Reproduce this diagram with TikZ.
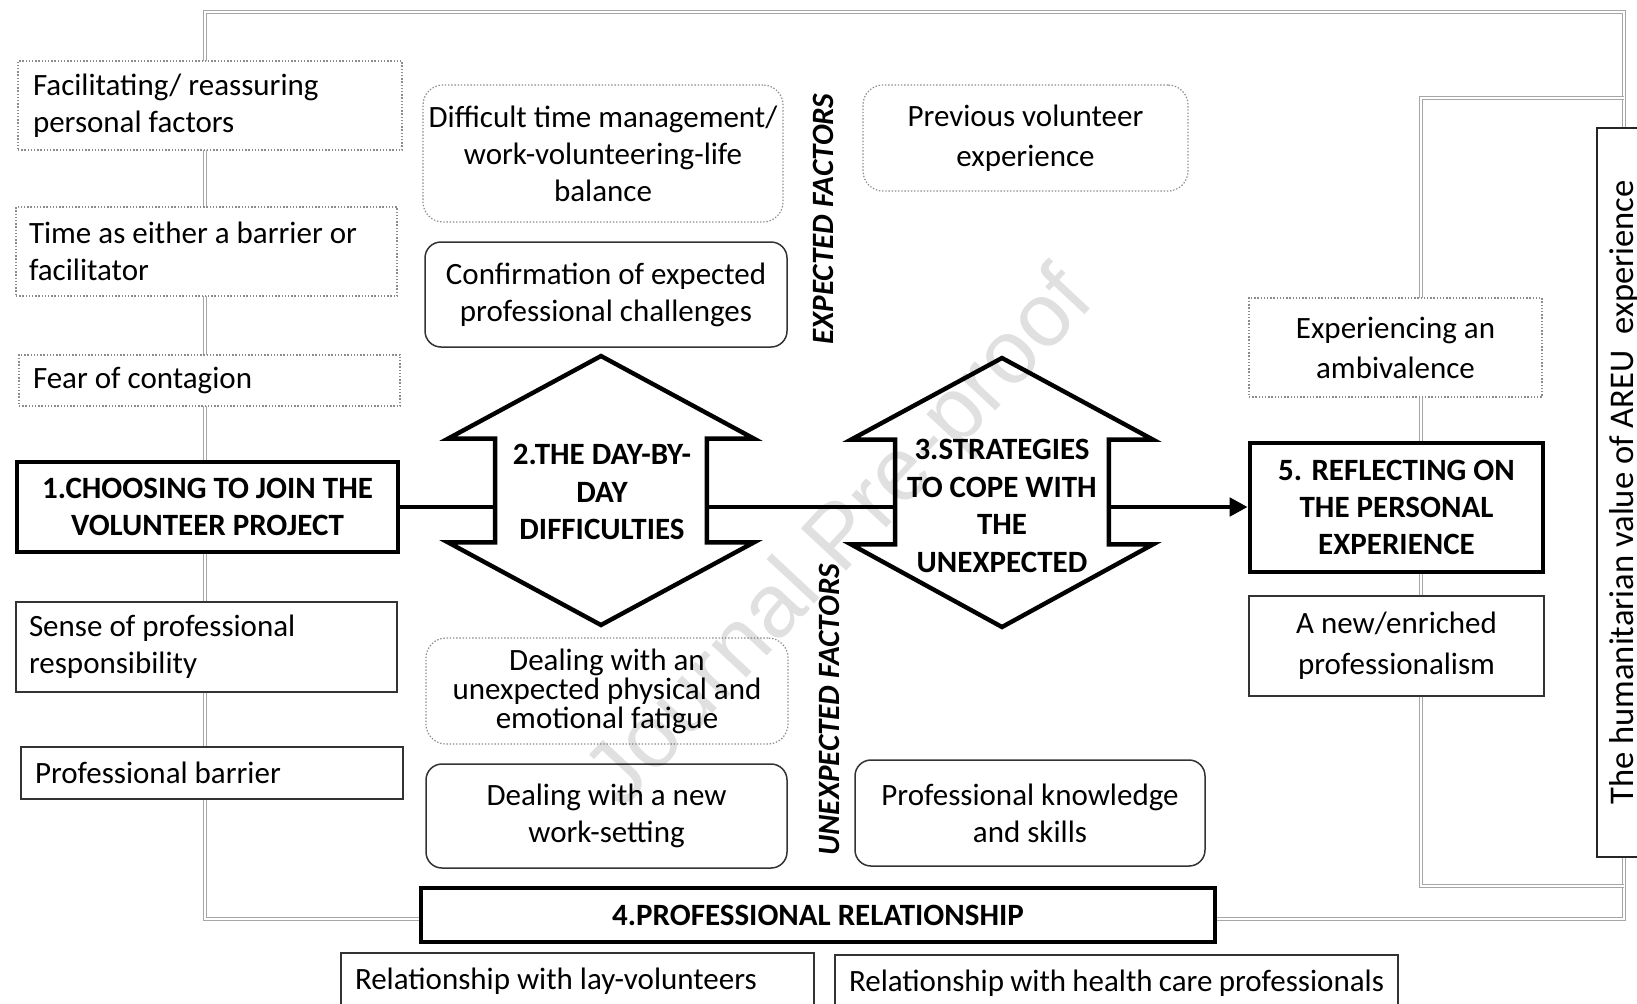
\documentclass[tikz,border=0pt]{standalone}
\usepackage{fontspec}
\setmainfont{Carlito}
\newfontfamily\wmfont{Liberation Sans}
\usetikzlibrary{arrows.meta,calc}
\newcommand\fsz[1]{\fontsize{15.5}{#1}\selectfont}
\begin{document}
\begin{tikzpicture}[x=0.5pt,y=-0.5pt,
  natsp/.style={execute at begin node={\spaceskip=0pt\xspaceskip=0pt\relax}},
  frame/.style={draw=gray!70, line width=0.6pt, double=white, double distance=1.1pt},
  base/.style={natsp, fill=white, inner sep=0pt, font=\fsz{18.5}},
  dotbox/.style={base, draw=gray!90, line width=0.6pt, dash pattern=on 0.7pt off 0.9pt},
  thinbox/.style={base, draw=black!80, line width=0.75pt},
  headbox/.style={base, draw=black, line width=2.3pt, font=\fsz{18.7}\bfseries},
  rnd/.style={rounded corners=8pt},
  hex/.style={draw=black, line width=2.2pt, line join=miter, fill=white},
  shaft/.style={draw=none, inner sep=0pt},
  hextext/.style={natsp, inner sep=0pt, font=\fsz{18.7}\bfseries, align=flush center, text width=110pt},
  sidelabel/.style={rotate=90, inner sep=0pt, font=\fontsize{15.5}{18}\selectfont\bfseries\itshape},
  conn/.style={draw=black, line width=2.4pt},
  arr/.style={conn, -{Triangle[length=9pt,width=9pt]}}
]
\useasboundingbox (0,0) rectangle (1637,1003);
\clip (0,0) rectangle (1637,1003);
\fill[white] (0,0) rectangle (1637,1003);

% frame lines
\draw[frame] (205,919) -- (205,12) -- (1624,12) -- (1624,919) -- cycle;
\draw[frame] (1624,98) -- (1421,98) -- (1421,886) -- (1624,886);

% left column
\node[dotbox, minimum width=192pt, minimum height=44.5pt, inner xsep=7.5pt, text width=177pt, align=flush left] (fac) at (210,105.5) {Facilitating/ reassuring\\personal factors};
\node[dotbox, minimum width=190.5pt, minimum height=44.5pt, inner xsep=6.5pt, text width=177.5pt, align=flush left] (time) at (206.5,251.5) {Time as either a barrier or\\facilitator};
\node[dotbox, minimum width=190.5pt, minimum height=25.5pt, inner xsep=7pt, text width=176.5pt, align=flush left] (fear) at (209.5,380.5) {Fear of contagion};
\node[headbox, minimum width=190.5pt, minimum height=45pt, text width=185pt, align=flush center] (n1) at (207.5,507) {1.CHOOSING TO JOIN THE\\VOLUNTEER PROJECT};
\node[thinbox, minimum width=190.5pt, minimum height=45pt, inner xsep=6.5pt, text width=177.5pt, align=flush left] (sense) at (206.5,647) {Sense of professional\\responsibility};
\node[thinbox, minimum width=191pt, minimum height=26pt, inner xsep=7pt, text width=177pt, align=flush left] (barrier) at (212,773) {Professional barrier};

% middle column
\node[dotbox, rounded corners=10pt, minimum width=180pt, minimum height=68.5pt, text width=178pt, align=flush center] (dtm) at (603,153.5) {Difficult time management/\\work-volunteering-life\\balance};
\node[thinbox, rnd, minimum width=181pt, minimum height=52.5pt, text width=178pt, align=flush center] (conf) at (606,294.5) {Confirmation of expected\\professional challenges};
\node[dotbox, rounded corners=10pt, minimum width=162.5pt, minimum height=53pt, text width=160pt, align=flush center, font=\fsz{20}] (prev) at (1025.5,138) {Previous volunteer\\experience};
\node[dotbox, rounded corners=10pt, minimum width=181pt, minimum height=53pt, text width=178pt, align=flush center, font=\fsz{14.5}] (fat) at (607,691) {Dealing with an\\unexpected physical and\\emotional fatigue};
\node[thinbox, rnd, minimum width=180.5pt, minimum height=52pt, text width=178pt, align=flush center] (newset) at (606.5,816) {Dealing with a new\\work-setting};
\node[thinbox, rnd, minimum width=175pt, minimum height=53pt, text width=172pt, align=flush center] (know) at (1030,813) {Professional knowledge\\and skills};
\node[headbox, minimum width=397pt, minimum height=27pt] (n4) at (818,915) {4.PROFESSIONAL RELATIONSHIP};
\node[thinbox, minimum width=236.5pt, minimum height=28pt, inner xsep=7pt, text width=222.5pt, align=flush left] (lay) at (577.5,981) {Relationship with lay-volunteers};
\node[thinbox, minimum width=281.5pt, minimum height=28pt, inner xsep=7pt, text width=267.5pt, align=flush left] (hcp) at (1116.5,983) {Relationship with health care professionals};

\node[sidelabel] (expf) at (823,219) {EXPECTED FACTORS};
\node[sidelabel] (unexpf) at (829,710) {UNEXPECTED FACTORS};

% right column
\node[dotbox, minimum width=146.5pt, minimum height=49.5pt, text width=144pt, align=flush center, font=\fsz{20}] (amb) at (1395.5,347.5) {Experiencing an\\ambivalence};
\node[headbox, minimum width=146.5pt, minimum height=64.5pt, text width=144pt, align=flush center] (n5) at (1396.5,507.5) {5. REFLECTING ON\\THE PERSONAL\\EXPERIENCE};
\node[thinbox, minimum width=147.5pt, minimum height=50pt, text width=145pt, align=flush center, font=\fsz{20.5}] (enr) at (1396.5,646) {A new/enriched\\professionalism};
\node[base, draw=black!85, line width=0.75pt, rotate=90, minimum width=364.5pt, minimum height=28pt, anchor=north, font=\fontsize{17.3}{20}\selectfont] (hum) at (1596,492.5) {The humanitarian value of AREU\ \ experience};

% hexagon 2
\node[shaft, minimum width=105.5pt, minimum height=51.5pt] (h2) at (601,490.5) {};
\draw[hex] (h2.north west) -- ++(-47,0) -- (601,356) -- ($(h2.north east)+(47,0)$) -- (h2.north east) -- (h2.south east) -- ++(47,0) -- (601,625) -- ($(h2.south west)+(-47,0)$) -- (h2.south west) -- cycle;
\node[hextext] (h2t) at (602,492) {2.THE DAY-BY-\\DAY\\DIFFICULTIES};

% hexagon 3
\node[shaft, minimum width=106.5pt, minimum height=52pt] (h3) at (1002,492) {};
\draw[hex] (h3.north west) -- ++(-44,0) -- (1002,358) -- ($(h3.north east)+(44,0)$) -- (h3.north east) -- (h3.south east) -- ++(44,0) -- (1002,627) -- ($(h3.south west)+(-44,0)$) -- (h3.south west) -- cycle;
\node[hextext] (h3t) at (1002,506) {3.STRATEGIES\\TO COPE WITH\\THE\\UNEXPECTED};

% connectors
\draw[conn] (n1.east) -- (n1.east -| h2.west);
\draw[conn] (h2.east |- n1.east) -- (h3.west |- n1.east);
\draw[arr] (h3.east |- n1.east) -- (n5.west |- n1.east);

% watermark
\node[rotate=47, font=\wmfont\fontsize{45}{45}\selectfont, text=black, opacity=0.12, inner sep=0pt] (wm) at (843,540) {Journal Pre-proof};
\end{tikzpicture}
\end{document}
